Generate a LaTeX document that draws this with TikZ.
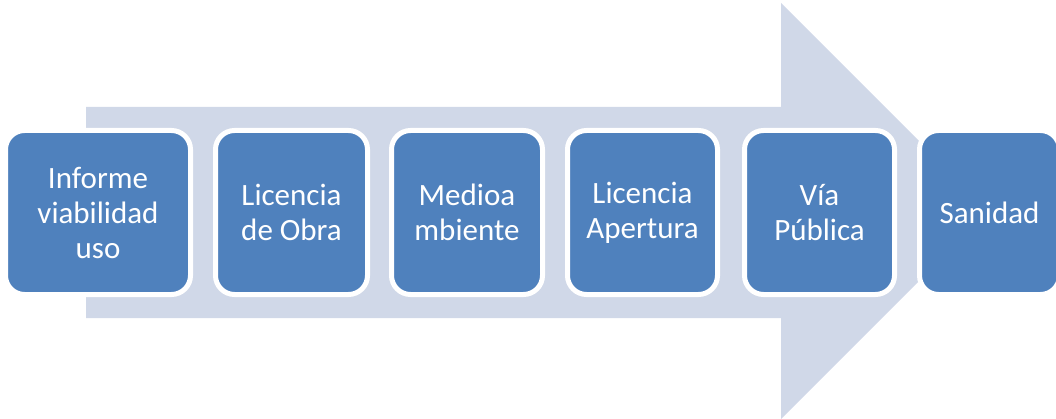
\documentclass[tikz,border=0pt]{standalone}
\usepackage{fontspec}
\setmainfont{Carlito}
\definecolor{arrowfill}{HTML}{D0D8E8}
\definecolor{boxfill}{HTML}{4F81BD}
\begin{document}
\begin{tikzpicture}[x=1pt,y=-1pt,
  stage/.style={draw=white, line width=5pt, fill=boxfill, rounded corners=19pt,
    minimum height=164pt, inner sep=0pt, align=center, text=white,
    font=\fontsize{31}{35}\selectfont}]
\useasboundingbox (0,0) rectangle (1056,419);
% big background arrow
\fill[arrowfill] (86,107) -- (781,107) -- (781,3) -- (989,211) -- (781,419) -- (781,318) -- (86,318) -- cycle;
% stages
\node[stage, minimum width=185pt] (s1) at (98,212.5) {Informe\\viabilidad\\uso};
\node[stage, minimum width=152pt] (s2) at (291.5,212.5) {Licencia\\de Obra};
\node[stage, minimum width=151pt] (s3) at (467,212.5) {Medioa\\mbiente};
\node[stage, minimum width=150pt] (s4) at (642.5,212.5) {Licencia\\Apertura};
\node[stage, minimum width=150pt] (s5) at (819.5,212.5) {Vía\\Pública};
\node[stage, minimum width=140pt] (s6) at (989.5,212.5) {Sanidad};
\end{tikzpicture}
\end{document}
